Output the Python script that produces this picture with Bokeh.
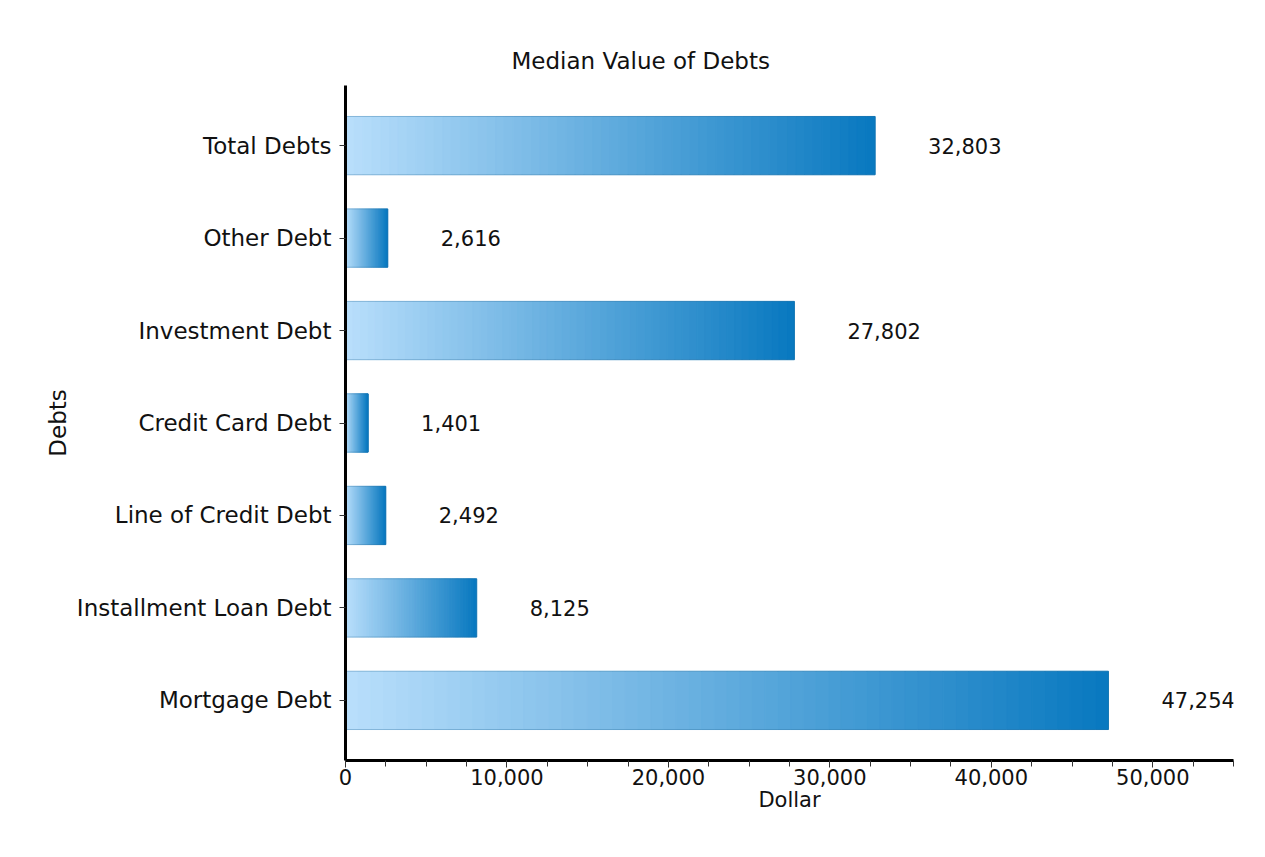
from bokeh.plotting import figure
from bokeh.models import (FactorRange, Range1d, ColumnDataSource, LabelSet,
                          SingleIntervalTicker, NumeralTickFormatter)
from bokeh.core.properties import value
from bokeh.embed import file_html
from bokeh.resources import INLINE

# ---- data ----
categories = ["Total Debts", "Other Debt", "Investment Debt", "Credit Card Debt",
              "Line of Credit Debt", "Installment Loan Debt", "Mortgage Debt"]
values = [32803, 2616, 27802, 1401, 2492, 8125, 47254]
x_max = 55000
tick_interval = 10000
title_text = "Median Value of Debts"

FONT = "DejaVu Sans"
LEFT_RGB = (184, 222, 251)
RIGHT_RGB = (9, 121, 192)
N_SLICES = 60

W, H = 1255, 845
p = figure(width=W, height=H, output_backend="svg", toolbar_location=None,
           y_range=FactorRange(factors=categories[::-1], range_padding=0.15,
                               range_padding_units="absolute"),
           x_range=Range1d(0, x_max),
           min_border_left=345, min_border_right=22, min_border_top=85,
           min_border_bottom=85)

# gradient bars built from slices of each value
ys, lefts, rights, colors = [], [], [], []
for cat, v in zip(categories, values):
    for i in range(N_SLICES):
        t = i / (N_SLICES - 1)
        r = round(LEFT_RGB[0] + (RIGHT_RGB[0] - LEFT_RGB[0]) * t)
        g = round(LEFT_RGB[1] + (RIGHT_RGB[1] - LEFT_RGB[1]) * t)
        b = round(LEFT_RGB[2] + (RIGHT_RGB[2] - LEFT_RGB[2]) * t)
        ys.append(cat)
        lefts.append(v * i / N_SLICES)
        rights.append(v * (i + 1) / N_SLICES)
        colors.append("#%02x%02x%02x" % (r, g, b))

slices = ColumnDataSource(dict(y=ys, left=lefts, right=rights, color=colors))
p.hbar(y="y", left="left", right="right", height=0.63, fill_color="color",
       line_color="color", line_width=1, source=slices)

src = ColumnDataSource(dict(y=categories, x=values,
                            label=[f"{v:,}" for v in values]))
p.hbar(y="y", left=0, right="x", height=0.63, fill_color=None,
       line_color="#2a6f9e", line_alpha=0.35, line_width=1, source=src)

labels = LabelSet(x="x", y="y", text="label", source=src, x_offset=53,
                  text_align="left", text_baseline="middle",
                  text_font=value(FONT), text_font_size="21px",
                  text_color="#111111")
p.add_layout(labels)

# title: left-aligned with an offset so it sits centred on the whole chart
p.title.text = title_text
p.title.align = "left"
p.title.offset = 166
p.title.standoff = 23
p.title.text_font = FONT
p.title.text_font_size = "23px"
p.title.text_font_style = "normal"
p.title.text_color = "#111111"

# axes
for ax in (p.xaxis[0], p.yaxis[0]):
    ax.axis_line_width = 3
    ax.axis_line_color = "black"
    ax.major_tick_line_color = "#333333"
    ax.minor_tick_line_color = "#333333"
    ax.major_tick_in = 0
    ax.minor_tick_in = 0
    ax.major_label_text_font = FONT
    ax.major_label_text_color = "#111111"
    ax.axis_label_text_font = FONT
    ax.axis_label_text_font_style = "normal"
    ax.axis_label_text_color = "#111111"

p.xaxis.ticker = SingleIntervalTicker(interval=tick_interval, num_minor_ticks=4)
p.xaxis.formatter = NumeralTickFormatter(format="0,0")
p.xaxis.major_tick_out = 7
p.xaxis.minor_tick_out = 6
p.xaxis.major_label_standoff = 1
p.xaxis.major_label_text_font_size = "21px"
p.xaxis.axis_label = "Dollar"
p.xaxis.axis_label_text_font_size = "21px"
p.xaxis.axis_label_standoff = 0

p.yaxis.axis_label = "Debts"
p.yaxis.major_tick_out = 6
p.yaxis.major_label_standoff = 8
p.yaxis.major_label_text_font_size = "23px"
p.yaxis.axis_label_text_font_size = "23px"
p.yaxis.axis_label_standoff = 3

p.xgrid.visible = False
p.ygrid.visible = False
p.outline_line_color = None
p.background_fill_color = "white"
p.border_fill_color = "white"

open("out.html", "w").write(file_html(p, INLINE))
